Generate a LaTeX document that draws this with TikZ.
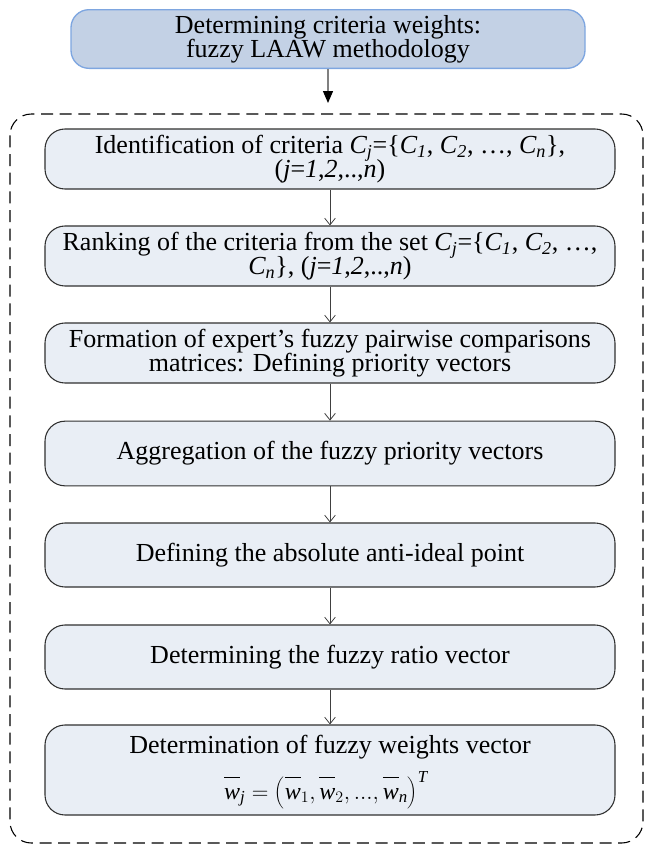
\documentclass[tikz,border=0pt]{standalone}
\usepackage{fontspec}
\setmainfont{Liberation Serif}
\usetikzlibrary{arrows.meta}
\definecolor{topfill}{HTML}{C3D1E5}
\definecolor{topdraw}{HTML}{7EA6E0}
\definecolor{boxfill}{HTML}{E9EEF5}
\definecolor{boxdraw}{HTML}{303030}
\definecolor{arrowgray}{HTML}{404040}
\newcommand{\boxfont}{\fontsize{19.5pt}{17.5pt}\selectfont\lineskiplimit=-100pt\relax}
\newcommand{\topfont}{\fontsize{19.5pt}{18pt}\selectfont\lineskiplimit=-100pt\relax}
\newcommand{\wbar}{\overline{\rule{0pt}{15pt}\mathit{w}}}
\tikzset{
  topbox/.style={draw=topdraw, fill=topfill, line width=1pt, rounded corners=13.5pt,
    minimum width=385.5pt, minimum height=44pt, align=center, font=\topfont, inner sep=0pt},
  stepbox/.style={draw=boxdraw, fill=boxfill, line width=0.8pt, rounded corners=15pt,
    minimum width=427.5pt, align=center, font=\boxfont, inner sep=0pt},
  flow/.style={draw=arrowgray, line width=0.6pt, -{Straight Barb[length=5pt,width=8pt]}},
  topflow/.style={draw=gray, line width=1pt, -{Triangle[length=9pt,width=7.5pt,color=black,fill=black]}},
  frame/.style={draw=black, line width=0.8pt, dash pattern=on 9pt off 5pt, rounded corners=16pt}
}
\begin{document}
\begin{tikzpicture}[x=0.75pt,y=-0.75pt]
\useasboundingbox (0,0) rectangle (645,847);
\node[topbox] (top) at (328,39) {Determining criteria weights:\\fuzzy LAAW methodology};
\draw[frame] (10,114) rectangle (643,843);
\coordinate (frametop) at (328,103);
\node[stepbox, minimum height=45pt] (s1) at (330,159)
  {Identification of criteria \textit{C\textsubscript{j}}=\{\textit{C\textsubscript{1}}, \textit{C\textsubscript{2}}, …, \textit{C\textsubscript{n}}\},\\(\textit{j}=\textit{1},\textit{2},..,\textit{n})};
\node[stepbox, minimum height=45pt] (s2) at (330,256)
  {Ranking of the criteria from the set \textit{C\textsubscript{j}}=\{\textit{C\textsubscript{1}}, \textit{C\textsubscript{2}}, …,\\\textit{C\textsubscript{n}}\}, (\textit{j}=\textit{1},\textit{2},..,\textit{n})};
\node[stepbox, minimum height=45pt] (s3) at (330,353)
  {Formation of expert’s fuzzy pairwise comparisons\\matrices: Defining priority vectors};
\node[stepbox, minimum height=48.5pt] (s4) at (330,453.5)
  {Aggregation of the fuzzy priority vectors};
\node[stepbox, minimum height=48pt] (s5) at (330,555)
  {Defining the absolute anti-ideal point};
\node[stepbox, minimum height=48pt] (s6) at (330,657)
  {Determining the fuzzy ratio vector};
\node[stepbox, minimum height=67.5pt] (s7) at (330,770)
  {\rule{0pt}{17pt}Determination of fuzzy weights vector\\[17pt]
   {\fontsize{18pt}{18pt}\selectfont
   $\wbar_{\mathit{j}}=\left(\wbar_{1},\wbar_{2},...,\wbar_{\mathit{n}}\right)^{\mathit{T}}$\hspace*{6pt}}};
\draw[topflow] (top.south) -- (frametop);
\draw[flow] (s1) -- (s2);
\draw[flow] (s2) -- (s3);
\draw[flow] (s3) -- (s4);
\draw[flow] (s4) -- (s5);
\draw[flow] (s5) -- (s6);
\draw[flow] (s6) -- (s7);
\end{tikzpicture}
\end{document}
